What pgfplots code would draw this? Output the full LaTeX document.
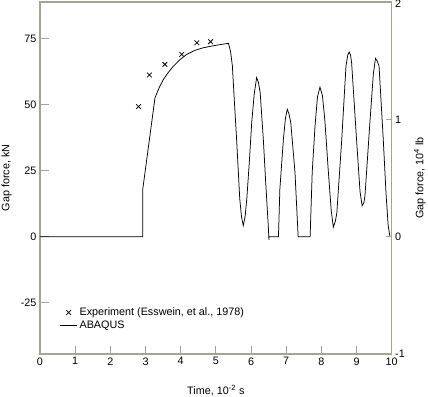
\documentclass[border=0pt]{standalone}
\usepackage{fontspec}
\setmainfont{Liberation Sans}
\usepackage{pgfplots}
\pgfplotsset{compat=1.18}
\definecolor{frame}{RGB}{165,165,150}
\begin{document}
\begin{tikzpicture}
\begin{axis}[
  name=ax,
  scale only axis,
  width=351.7pt, height=352pt,
  xmin=0, xmax=10, ymin=-44.48, ymax=88.96,
  xtick={0,1,...,10}, ytick={-25,0,25,50,75},
  xtick pos=bottom, ytick pos=left,
  tick align=inside,
  major tick length=8.5pt,
  axis line style={frame, line width=1.1pt},
  tick style={frame, line width=1pt},
  /pgf/number format/assume math mode=true,
  tick label style={font=\fontsize{10.8}{13}\selectfont},
  label style={font=\fontsize{10.8}{13}\selectfont},
  xlabel={Time, 10\textsuperscript{-2} s},
  ylabel={Gap force, kN},
  xlabel style={at={(axis description cs:0.5,-0.114)}, anchor=base},
  ylabel style={at={(axis description cs:-0.095,0.5)}, anchor=center},
  legend style={draw=none, fill=none, at={(axis description cs:0.047,0.143)}, anchor=north west,
    font=\fontsize{10.8}{13}\selectfont, row sep=0pt},
  legend cell align=left,
  clip=false,
]
\addplot[only marks, mark=x, mark size=3.3pt, line width=0.8pt, black] coordinates {
(2.80,49.3) (3.11,61.3) (3.55,65.3) (4.03,69.1) (4.46,73.5) (4.85,73.9)
};
\addlegendentry{Experiment (Esswein, et al., 1978)}
\addplot[black, line width=0.75pt, mark=none] coordinates {
(0,0) (2.92,0) (2.92,17.8) (3.27,52.7) (3.40,56.8) (3.51,59.6) (3.65,62.3) (3.79,64.6)
(3.97,67.0) (4.17,69.1) (4.40,70.6) (4.64,71.6) (4.90,72.3) (5.12,72.8) (5.36,73.3)
(5.42,70) (5.47,64.7) (5.53,50.5) (5.59,36.9) (5.68,14.3) (5.73,7.5) (5.78,4.2)
(5.83,7.5) (5.88,14.3) (5.95,28) (6.02,43.3) (6.09,54) (6.16,60.3) (6.21,58.5)
(6.26,54.6) (6.35,36.9) (6.42,20) (6.49,4.2) (6.51,-1.2) (6.51,0) (6.78,0)
(6.82,18) (6.92,36.9) (6.98,45) (7.03,48.3) (7.08,46.5) (7.13,43.3) (7.25,24.4)
(7.34,0) (7.68,0) (7.74,24.4) (7.82,42) (7.89,53) (7.96,56.7) (8.03,53.5) (8.10,44)
(8.20,24.4) (8.28,10) (8.34,3.6) (8.40,6) (8.44,9) (8.58,36.9) (8.70,64.7) (8.75,68.8)
(8.79,70) (8.83,68.8) (8.86,66) (9.00,36.9) (9.10,17) (9.16,11.7) (9.21,13) (9.24,15.5)
(9.38,43.3) (9.48,62) (9.54,67.6) (9.59,66.5) (9.64,64.7) (9.76,36.9) (9.84,16)
(9.90,4.2) (9.95,0)
};
\addlegendentry{ABAQUS}
\end{axis}
\begin{axis}[
  scale only axis,
  width=351.7pt, height=352pt,
  xmin=0, xmax=10, ymin=-1, ymax=2,
  axis x line=none,
  axis y line*=right,
  ytick={-1,0,1,2},
  yticklabels={-1,0,1,\smash{\raisebox{-5.5pt}{2}}},
  tick align=inside,
  major tick length=6pt,
  axis line style={frame, line width=1.1pt, -},
  tick style={frame, line width=1pt},
  tick label style={font=\fontsize{10.8}{13}\selectfont},
  label style={font=\fontsize{10.8}{13}\selectfont},
  ylabel={Gap force, 10\textsuperscript{4} lb},
  ylabel style={at={(axis description cs:1.08,0.5)}, anchor=center, rotate=0},
]
\end{axis}
\pgfresetboundingbox
\path ([shift={(-40pt,-42pt)}]ax.south west) rectangle ([shift={(36.3pt,2pt)}]ax.north east);
\end{tikzpicture}
\end{document}
